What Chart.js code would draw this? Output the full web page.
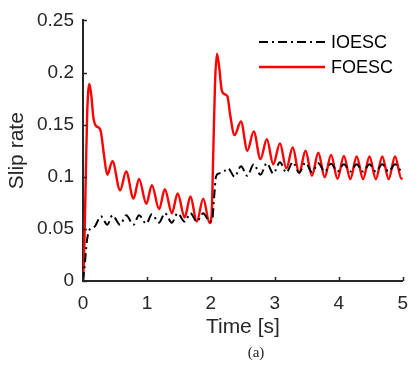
<!DOCTYPE html>
<html>
<head>
<meta charset="utf-8">
<script src="https://cdn.jsdelivr.net/npm/chart.js@4.4.1/dist/chart.umd.min.js"></script>
<style>
  html, body { margin: 0; padding: 0; background: #fff; }
  #wrap { position: relative; width: 419px; height: 368px; }
  #caption { position: absolute; left: 236px; top: 344px; width: 40px; text-align: center;
    font: 15px "Liberation Serif", "DejaVu Serif", serif; color: #262626; }
</style>
</head>
<body>
<div id="wrap">
  <canvas id="myChart" width="419" height="368"></canvas>
  <div id="caption">(a)</div>
</div>
<script>
// values (time in s, slip rate)
var ioescTime = [0, 0.03, 0.06, 0.1, 0.18, 0.28, 0.38, 0.46, 0.58, 0.675, 0.79, 0.876, 0.99, 1.077, 1.19, 1.28, 1.39, 1.48, 1.59, 1.68, 1.78, 1.88, 1.98,
  2.02, 2.05, 2.08, 2.12, 2.2, 2.27, 2.37, 2.47, 2.57, 2.67, 2.775, 2.875, 2.975, 3.08, 3.18, 3.28, 3.38, 3.48, 3.58, 3.68, 3.78, 3.88, 3.98,
  4.08, 4.18, 4.28, 4.38, 4.48, 4.58, 4.68, 4.78, 4.88, 4.98, 5];
var ioescSlip = [0, 0.017, 0.038, 0.049, 0.052, 0.062, 0.054, 0.063, 0.054, 0.063, 0.054, 0.063, 0.055, 0.064, 0.056, 0.065, 0.056, 0.065, 0.057, 0.065, 0.057, 0.065, 0.057,
  0.058, 0.08, 0.1, 0.103, 0.105, 0.108, 0.1, 0.11, 0.101, 0.112, 0.102, 0.113, 0.103, 0.114, 0.104, 0.114, 0.104, 0.1135, 0.1045, 0.113, 0.105, 0.1125, 0.105,
  0.112, 0.105, 0.112, 0.105, 0.112, 0.105, 0.112, 0.105, 0.112, 0.106, 0.107];

var foescTime = [0, 0.02, 0.045, 0.065, 0.1, 0.135, 0.16, 0.2, 0.25, 0.28, 0.33, 0.38, 0.46, 0.58, 0.675, 0.79, 0.876, 0.99, 1.077, 1.19, 1.28, 1.39, 1.48, 1.59, 1.68, 1.78, 1.88, 1.98,
  2.01, 2.04, 2.065, 2.095, 2.13, 2.17, 2.22, 2.26, 2.3, 2.37, 2.47, 2.57, 2.67, 2.775, 2.875, 2.975, 3.08, 3.18, 3.28, 3.38, 3.48, 3.58, 3.68, 3.78, 3.88, 3.98,
  4.08, 4.18, 4.28, 4.38, 4.48, 4.58, 4.68, 4.78, 4.88, 4.98, 5];
var foescSlip = [0, 0.03, 0.105, 0.16, 0.189, 0.175, 0.158, 0.149, 0.147, 0.143, 0.12, 0.102, 0.115, 0.087, 0.105, 0.079, 0.098, 0.074, 0.092, 0.069, 0.088, 0.065, 0.084, 0.061, 0.081, 0.057, 0.079, 0.0555,
  0.062, 0.13, 0.19, 0.218, 0.205, 0.183, 0.179, 0.177, 0.16, 0.14, 0.153, 0.125, 0.1435, 0.117, 0.136, 0.112, 0.132, 0.108, 0.128, 0.1035, 0.125, 0.101, 0.123, 0.0995, 0.121, 0.098,
  0.12, 0.0977, 0.1195, 0.0977, 0.1195, 0.0977, 0.1195, 0.0977, 0.1195, 0.098, 0.099];

var xTicks = [0, 1, 2, 3, 4, 5];
var xTickLabels = ['0', '1', '2', '3', '4', '5'];
var yTicks = [0, 0.05, 0.1, 0.15, 0.2, 0.25];
var yTickLabels = ['0', '0.05', '0.1', '0.15', '0.2', '0.25'];

var axisColor = '#262626';

function toPoints(xs, ys) {
  return xs.map(function(x, i) { return {x: x, y: ys[i]}; });
}

// matlab style ticks, drawn inward
var innerTicks = {
  id: 'innerTicks',
  afterDraw: function(chart) {
    var c = chart.ctx, a = chart.chartArea;
    var sx = chart.scales.x, sy = chart.scales.y;
    c.save();
    c.strokeStyle = axisColor;
    c.lineWidth = 1.5;
    c.beginPath();
    xTicks.forEach(function(v) {
      var px = Math.round(sx.getPixelForValue(v)) + 0.5;
      c.moveTo(px, a.bottom); c.lineTo(px, a.bottom - 4);
    });
    yTicks.forEach(function(v) {
      var py = Math.round(sy.getPixelForValue(v)) + 0.5;
      c.moveTo(a.left, py); c.lineTo(a.left + 4, py);
    });
    c.stroke();
    c.restore();
  }
};

// legend in the upper right corner of the plot
var cornerLegend = {
  id: 'cornerLegend',
  afterDraw: function(chart) {
    var c = chart.ctx;
    c.save();
    c.font = '18px "Liberation Sans", Arial, sans-serif';
    c.textBaseline = 'middle';
    chart.data.datasets.forEach(function(ds, i) {
      var y = 42 + i * 25;
      c.strokeStyle = ds.borderColor;
      c.lineWidth = ds.borderWidth;
      c.setLineDash(ds.borderDash || []);
      c.beginPath();
      c.moveTo(259, y); c.lineTo(325, y);
      c.stroke();
      c.setLineDash([]);
      c.fillStyle = '#000';
      c.fillText(ds.label, 331, y + 1);
    });
    c.restore();
  }
};

var ctx = document.getElementById('myChart').getContext('2d');
var myChart = new Chart(ctx, {
  type: 'line',
  data: {
    datasets: [{
      label: 'IOESC',
      data: toPoints(ioescTime, ioescSlip),
      borderColor: '#000000',
      borderWidth: 2,
      borderDash: [9, 4, 2, 4],
      pointRadius: 0,
      cubicInterpolationMode: 'monotone',
      fill: false
    }, {
      label: 'FOESC',
      data: toPoints(foescTime, foescSlip),
      borderColor: '#ff0000',
      borderWidth: 2.4,
      pointRadius: 0,
      cubicInterpolationMode: 'monotone',
      fill: false
    }]
  },
  options: {
    responsive: false,
    animation: false,
    devicePixelRatio: 1,
    layout: { padding: { left: 0, right: 5, top: 14, bottom: 0 } },
    plugins: { legend: { display: false }, tooltip: { enabled: false } },
    scales: {
      x: {
        type: 'linear',
        min: 0, max: 5,
        afterBuildTicks: function(s) { s.ticks = xTicks.map(function(v) { return {value: v}; }); },
        afterFit: function(s) { s.height = 87; },
        grid: { display: false, drawTicks: false },
        border: { display: true, color: axisColor, width: 2 },
        ticks: {
          color: axisColor,
          padding: 11,
          font: { family: '"Liberation Sans", Arial, sans-serif', size: 19 },
          callback: function(v, i) { return xTickLabels[i]; }
        },
        title: {
          display: true,
          text: 'Time [s]',
          color: axisColor,
          font: { family: '"Liberation Sans", Arial, sans-serif', size: 21 },
          padding: { top: 0, bottom: 28 }
        }
      },
      y: {
        min: 0, max: 0.25,
        afterBuildTicks: function(s) { s.ticks = yTicks.map(function(v) { return {value: v}; }); },
        afterFit: function(s) { s.width = 83; },
        grid: { display: false, drawTicks: false },
        border: { display: true, color: axisColor, width: 2 },
        ticks: {
          color: axisColor,
          padding: 9,
          font: { family: '"Liberation Sans", Arial, sans-serif', size: 19 },
          callback: function(v, i) { return yTickLabels[i]; }
        },
        title: {
          display: true,
          text: 'Slip rate',
          color: axisColor,
          font: { family: '"Liberation Sans", Arial, sans-serif', size: 21 },
          padding: { top: 5, bottom: 0 }
        }
      }
    }
  },
  plugins: [innerTicks, cornerLegend]
});
</script>
</body>
</html>
